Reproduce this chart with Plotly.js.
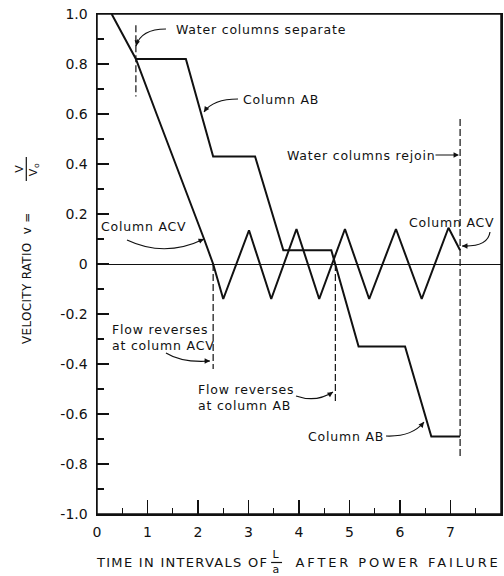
<!DOCTYPE html>
<html>
<head>
<meta charset="utf-8">
<script src="https://cdn.plot.ly/plotly-3.0.1.min.js"></script>
<style>
html,body{margin:0;padding:0;background:#fff;}
#chart{width:504px;height:576px;}
#chart g.annotation text{letter-spacing:0.8px;}
#chart g.annotation[data-index="16"] text{letter-spacing:1.3px;}
#chart g.annotation[data-index="19"] text{letter-spacing:2.9px;}
#chart g.annotation[data-index="20"] text{letter-spacing:0.3px;}
</style>
</head>
<body>
<div id="chart"></div>
<script>
// Column ACV velocity ratio vs time (intervals of L/a)
const acvT = [0.29, 0.77, 1.18, 1.56, 1.94, 2.12, 2.30, 2.50, 3.01, 3.45, 3.95, 4.40, 4.91, 5.39, 5.92, 6.43, 6.96, 7.19];
const acvV = [1.00, 0.82, 0.60, 0.40, 0.20, 0.10, 0.00, -0.14, 0.135, -0.14, 0.14, -0.14, 0.14, -0.14, 0.14, -0.14, 0.145, 0.055];
// Column AB
const abT = [0.77, 1.76, 2.30, 3.13, 3.69, 4.64, 5.18, 6.10, 6.62, 7.19];
const abV = [0.82, 0.82, 0.43, 0.43, 0.055, 0.055, -0.33, -0.33, -0.69, -0.69];
// Dashed event markers
const markT = [0.77, 2.30, 4.72, 7.19];
const markTop = [0.955, 0.0, 0.0, 0.58];
const markBot = [0.67, -0.42, -0.55, -0.77];
// Tick labels
const yTickVals = [-1, -0.8, -0.6, -0.4, -0.2, 0, 0.2, 0.4, 0.6, 0.8, 1];
const yTickText = ['-1.0', '-0.8', '-0.6', '-0.4', '-0.2', '0', '0.2', '0.4', '0.6', '0.8', '1.0'];
const xTickVals = [0, 1, 2, 3, 4, 5, 6, 7, 8];
const xTickText = ['0', '1', '2', '3', '4', '5', '6', '7', '8'];

const FONT = 'DejaVu Sans, Liberation Sans, sans-serif';
const traces = [];
traces.push({x: acvT, y: acvV, mode: 'lines', line: {color: '#111', width: 2}, hoverinfo: 'skip', showlegend: false});
traces.push({x: abT, y: abV, mode: 'lines', line: {color: '#111', width: 2}, hoverinfo: 'skip', showlegend: false});
for (let i = 0; i < markT.length; i++) {
  traces.push({x: [markT[i], markT[i]], y: [markTop[i], markBot[i]], mode: 'lines',
    line: {color: '#111', width: 1.2, dash: '7px,3px'}, hoverinfo: 'skip', showlegend: false});
}

function txt(text, x, y, extra) {
  return Object.assign({x: x, y: y, xref: 'x', yref: 'y', text: text, showarrow: false,
    xanchor: 'center', yanchor: 'middle', align: 'left', font: {family: FONT, size: 12.5, color: '#111'}}, extra || {});
}
function head(x, y, ax, ay) {
  return {x: x, y: y, xref: 'x', yref: 'y', ax: ax, ay: ay, text: '', showarrow: true,
    arrowhead: 2, arrowsize: 0.9, arrowwidth: 1.2, arrowcolor: '#111'};
}
function curve(p) {
  return {type: 'path', xref: 'x', yref: 'y', path: p, line: {color: '#111', width: 1.2}};
}

const annotations = [
  txt('Water columns separate', 3.08, 0.94),
  head(0.772, 0.872, 2, -8),
  txt('Column AB', 3.57, 0.66),
  head(2.119, 0.608, 4, -6),
  txt('Water columns rejoin', 5.08, 0.436),
  head(7.168, 0.436, -25, 0),
  txt('Column ACV', 0.85, 0.15),
  head(2.119, 0.10, -7, 3),
  txt('Column ACV', 6.95, 0.168),
  head(7.228, 0.072, 7, 0),
  txt('Flow reverses<br>at column ACV', 1.21, -0.292),
  head(2.238, -0.388, -7, 0),
  txt('Flow reverses<br>at column AB', 2.85, -0.532),
  head(4.673, -0.512, -6, 4),
  txt('Column AB', 4.86, -0.688),
  head(6.475, -0.632, -4, 5),
  // x-axis title (index 16..19)
  {xref: 'paper', yref: 'paper', x: 0.2116, y: -0.096, text: 'TIME IN INTERVALS OF', showarrow: false,
    xanchor: 'center', yanchor: 'middle', font: {family: FONT, size: 13, color: '#111'}},
  {xref: 'paper', yref: 'paper', x: 0.444, y: -0.080, text: 'L', showarrow: false,
    xanchor: 'center', yanchor: 'middle', font: {family: FONT, size: 11, color: '#111'}},
  {xref: 'paper', yref: 'paper', x: 0.444, y: -0.111, text: 'a', showarrow: false,
    xanchor: 'center', yanchor: 'middle', font: {family: FONT, size: 11, color: '#111'}},
  {xref: 'paper', yref: 'paper', x: 0.745, y: -0.096, text: 'AFTER POWER FAILURE', showarrow: false,
    xanchor: 'center', yanchor: 'middle', font: {family: FONT, size: 13, color: '#111'}},
  // y-axis title (index 20..22)
  {xref: 'paper', yref: 'paper', x: -0.173, y: 0.472, text: 'VELOCITY RATIO  v =', textangle: -90, showarrow: false,
    xanchor: 'center', yanchor: 'middle', font: {family: FONT, size: 12, color: '#111'}},
  {xref: 'paper', yref: 'paper', x: -0.192, y: 0.692, text: 'V', textangle: -90, showarrow: false,
    xanchor: 'center', yanchor: 'middle', font: {family: FONT, size: 11, color: '#111'}},
  {xref: 'paper', yref: 'paper', x: -0.157, y: 0.690, text: 'V<sub>o</sub>', textangle: -90, showarrow: false,
    xanchor: 'center', yanchor: 'middle', font: {family: FONT, size: 11, color: '#111'}}
];

const shapes = [
  curve('M 1.366,0.94 Q 0.871,0.94 0.772,0.872'),
  curve('M 2.792,0.66 Q 2.297,0.66 2.119,0.608'),
  curve('M 0.594,0.096 Q 1.347,0.024 2.119,0.10'),
  curve('M 7.782,0.128 Q 7.743,0.068 7.228,0.072'),
  curve('M 1.366,-0.356 Q 1.683,-0.396 2.238,-0.388'),
  curve('M 3.941,-0.528 Q 4.337,-0.556 4.673,-0.512'),
  curve('M 5.723,-0.688 Q 6.238,-0.692 6.475,-0.632'),
  {type: 'line', xref: 'paper', yref: 'paper', x0: 0.431, x1: 0.458, y0: -0.097, y1: -0.097, line: {color: '#111', width: 1.2}},
  {type: 'line', xref: 'paper', yref: 'paper', x0: -0.175, x1: -0.175, y0: 0.666, y1: 0.714, line: {color: '#111', width: 1.2}},
  {type: 'rect', xref: 'paper', yref: 'paper', x0: 0, x1: 1, y0: 0, y1: 1, line: {color: '#111', width: 1.5}}
];

const layout = {
  width: 504, height: 576,
  margin: {l: 97, r: 3, t: 14, b: 62},
  paper_bgcolor: '#fff', plot_bgcolor: '#fff',
  showlegend: false,
  font: {family: FONT, color: '#111'},
  xaxis: {
    range: [0, 8], tickvals: xTickVals, ticktext: xTickText,
    ticks: 'inside', ticklen: 14, tickwidth: 1.3, tickcolor: '#111',
    minor: {dtick: 0.5, tick0: 0, ticks: 'inside', ticklen: 6, tickwidth: 1.2, tickcolor: '#111', showgrid: false},
    showline: true, linecolor: '#111', linewidth: 1.5, mirror: true,
    showgrid: false, zeroline: false, ticklabelstandoff: 5,
    tickfont: {family: FONT, size: 14, color: '#111'}
  },
  yaxis: {
    range: [-1, 1], tickvals: yTickVals, ticktext: yTickText,
    ticks: 'inside', ticklen: 12, tickwidth: 1.3, tickcolor: '#111',
    minor: {dtick: 0.1, tick0: 0, ticks: 'inside', ticklen: 7, tickwidth: 1.2, tickcolor: '#111', showgrid: false},
    showline: true, linecolor: '#111', linewidth: 1.5, mirror: true,
    showgrid: false, zeroline: true, zerolinecolor: '#111', zerolinewidth: 1,
    ticklabelstandoff: 5,
    tickfont: {family: FONT, size: 14, color: '#111'}
  },
  annotations: annotations,
  shapes: shapes
};

Plotly.newPlot('chart', traces, layout, {displayModeBar: false, staticPlot: true});
</script>
</body>
</html>
